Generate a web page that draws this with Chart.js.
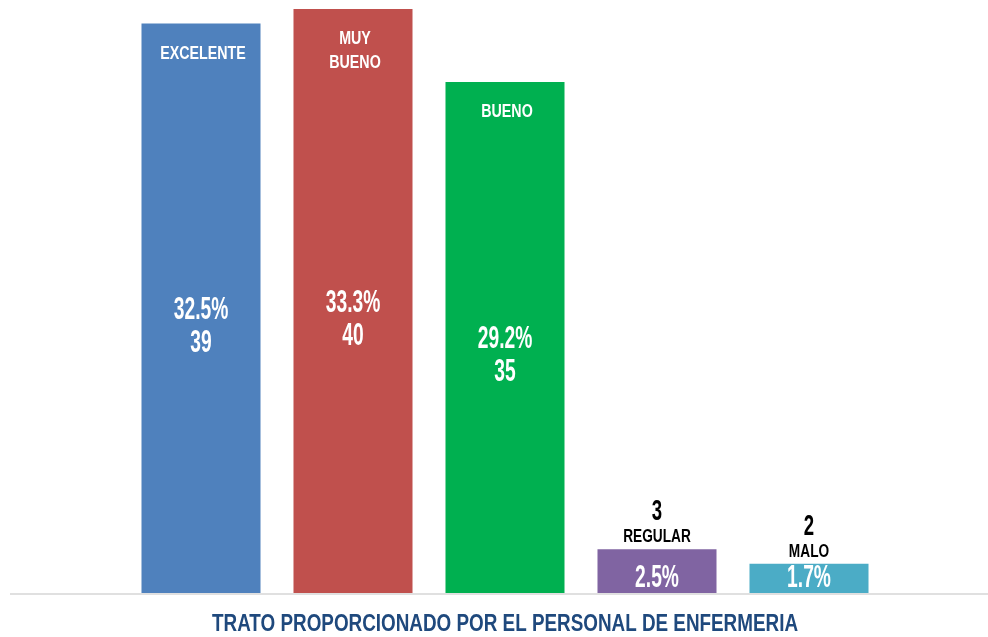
<!DOCTYPE html>
<html>
<head>
<meta charset="utf-8">
<script src="https://cdn.jsdelivr.net/npm/chart.js@4.4.1/dist/chart.umd.min.js"></script>
<style>
    html, body { margin: 0; padding: 0; background: #fff; }
    #wrap { width: 988px; height: 637px; }
</style>
</head>
<body>
<div id="wrap"><canvas id="tratoChart" width="988" height="637"></canvas></div>
<script>
const categories = ['EXCELENTE', 'MUY BUENO', 'BUENO', 'REGULAR', 'MALO'];
const counts = [39, 40, 35, 3, 2];
const percents = ['32.5%', '33.3%', '29.2%', '2.5%', '1.7%'];
const barColors = ['#4F81BD', '#C0504D', '#00B050', '#8064A2', '#4BACC6'];
const chartTitle = 'TRATO PROPORCIONADO POR EL PERSONAL DE ENFERMERIA';

const FONT = '"Liberation Sans", Arial, sans-serif';

// draws bold text squeezed horizontally (narrow look)
function narrowText(ctx, text, x, y, size, sx, color) {
    ctx.save();
    ctx.font = 'bold ' + size + 'px ' + FONT;
    ctx.fillStyle = color;
    ctx.textAlign = 'center';
    ctx.textBaseline = 'middle';
    ctx.translate(x, y);
    ctx.scale(sx, 1);
    ctx.fillText(text, 0, 0);
    ctx.restore();
}

// Labels drawn on/above each bar
const barLabels = {
    id: 'barLabels',
    afterDatasetsDraw(chart) {
        const ctx = chart.ctx;
        const meta = chart.getDatasetMeta(0);
        meta.data.forEach((bar, i) => {
            const x = bar.x;
            const top = bar.y;
            const bottom = bar.base;
            if (counts[i] > 10) {
                categories[i].split(' ').forEach((w, j) => {
                    narrowText(ctx, w, x + 2, top + 30 + j * 24, 19, 0.75, '#fff');
                });
                const mid = (top + bottom) / 2;
                narrowText(ctx, percents[i], x, mid + 2, 31, 0.62, '#fff');
                narrowText(ctx, String(counts[i]), x, mid + 35, 31, 0.62, '#fff');
            } else {
                narrowText(ctx, percents[i], x, bottom - 15, 31, 0.62, '#fff');
                narrowText(ctx, categories[i], x, top - 12, 19, 0.72, '#000');
                narrowText(ctx, String(counts[i]), x, top - 37, 30, 0.62, '#000');
            }
        });
    },
    afterDraw(chart) {
        const ctx = chart.ctx;
        const area = chart.chartArea;
        ctx.save();
        ctx.font = 'bold 24px ' + FONT;
        const w = ctx.measureText(chartTitle).width;
        ctx.restore();
        narrowText(ctx, chartTitle, (area.left + area.right) / 2, 624, 24, 586 / w, '#1F497D');
    }
};

// Light baseline across the whole width
const baseLine = {
    id: 'baseLine',
    beforeDatasetsDraw(chart) {
        const ctx = chart.ctx;
        const y = chart.scales.y.getPixelForValue(0) + 1;
        ctx.save();
        ctx.strokeStyle = '#e0e0e0';
        ctx.lineWidth = 2;
        ctx.beginPath();
        ctx.moveTo(10, y);
        ctx.lineTo(988, y);
        ctx.stroke();
        ctx.restore();
    }
};

new Chart(document.getElementById('tratoChart').getContext('2d'), {
    type: 'bar',
    data: {
        labels: categories,
        datasets: [{
            data: counts,
            backgroundColor: barColors,
            borderWidth: 0,
            categoryPercentage: 1,
            barPercentage: 0.783
        }]
    },
    options: {
        responsive: false,
        animation: false,
        layout: { padding: { left: 125, right: 103, top: 9, bottom: 44 } },
        plugins: {
            legend: { display: false },
            tooltip: { enabled: false }
        },
        scales: {
            x: { display: false },
            y: { display: false, min: 0, max: 40 }
        }
    },
    plugins: [baseLine, barLabels]
});
</script>
</body>
</html>
